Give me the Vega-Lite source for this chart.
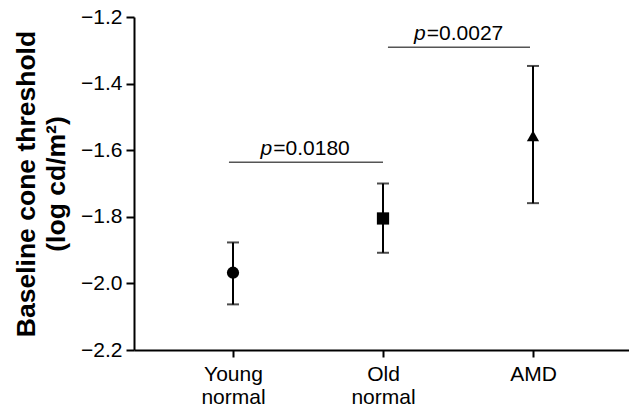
{
  "$schema": "https://vega.github.io/schema/vega-lite/v6.json",
  "width": 495,
  "height": 333,
  "autosize": {"type": "none"},
  "padding": {"left": 134, "top": 17, "right": 0, "bottom": 65},
  "background": "white",
  "config": {
    "view": {"stroke": null},
    "font": "Liberation Sans",
    "axis": {
      "domainColor": "black",
      "domainWidth": 2,
      "tickColor": "black",
      "tickWidth": 2,
      "labelColor": "black",
      "titleColor": "black",
      "grid": false,
      "labelFont": "Liberation Sans",
      "titleFont": "Liberation Sans"
    }
  },
  "datasets": {
    "groups": [
      {"group": "Young normal", "idx": 1, "mean": -1.968, "lo": -2.063, "hi": -1.877},
      {"group": "Old normal", "idx": 2, "mean": -1.805, "lo": -1.908, "hi": -1.70},
      {"group": "AMD", "idx": 3, "mean": -1.557, "lo": -1.759, "hi": -1.347}
    ],
    "sig": [
      {"from": 0.973, "to": 2.0, "y": -1.636, "split": 1.262, "p": "p", "label": "=0.0180"},
      {"from": 2.033, "to": 2.98, "y": -1.291, "split": 2.285, "p": "p", "label": "=0.0027"}
    ]
  },
  "layer": [
    {
      "data": {"name": "groups"},
      "mark": {"type": "rule", "color": "black", "strokeWidth": 2},
      "encoding": {
        "x": {
          "field": "idx", "type": "quantitative",
          "scale": {"domain": [0.34, 3.64], "nice": false, "zero": false},
          "axis": {
            "title": null,
            "values": [1, 2, 3],
            "labelExpr": "datum.value == 1 ? ['Young', 'normal'] : datum.value == 2 ? ['Old', 'normal'] : 'AMD'",
            "labelFontSize": 21,
            "labelLineHeight": 23,
            "tickSize": 7,
            "labelPadding": 6,
            "labelFlush": false,
            "labelOverlap": false
          }
        },
        "y": {
          "field": "lo", "type": "quantitative",
          "scale": {"domain": [-2.2, -1.2], "nice": false, "zero": false},
          "axis": {
            "title": ["Baseline cone threshold", "(log cd/m²)"],
            "values": [-2.2, -2.0, -1.8, -1.6, -1.4, -1.2],
            "format": ".1f",
            "labelFontSize": 21,
            "tickSize": 8,
            "labelPadding": 4,
            "titleFontSize": 26.5,
            "titleFontWeight": "bold",
            "titleLineHeight": 30,
            "titlePadding": 10
          }
        },
        "y2": {"field": "hi"}
      }
    },
    {
      "data": {"name": "groups"},
      "mark": {"type": "tick", "orient": "horizontal", "color": "black", "size": 12, "thickness": 2},
      "encoding": {
        "x": {"field": "idx", "type": "quantitative"},
        "y": {"field": "lo", "type": "quantitative"}
      }
    },
    {
      "data": {"name": "groups"},
      "mark": {"type": "tick", "orient": "horizontal", "color": "black", "size": 12, "thickness": 2},
      "encoding": {
        "x": {"field": "idx", "type": "quantitative"},
        "y": {"field": "hi", "type": "quantitative"}
      }
    },
    {
      "data": {"name": "groups"},
      "mark": {"type": "point", "filled": true, "color": "black", "opacity": 1, "size": 150},
      "encoding": {
        "x": {"field": "idx", "type": "quantitative"},
        "y": {"field": "mean", "type": "quantitative"},
        "shape": {
          "field": "group", "type": "nominal",
          "scale": {"domain": ["Young normal", "Old normal", "AMD"], "range": ["circle", "square", "triangle-up"]},
          "legend": null
        }
      }
    },
    {
      "data": {"name": "sig"},
      "mark": {"type": "rule", "color": "#555555", "strokeWidth": 1.5},
      "encoding": {
        "x": {"field": "from", "type": "quantitative"},
        "x2": {"field": "to"},
        "y": {"field": "y", "type": "quantitative"}
      }
    },
    {
      "data": {"name": "sig"},
      "mark": {"type": "text", "align": "right", "baseline": "alphabetic", "dy": -7, "fontSize": 21, "fontStyle": "italic", "color": "black"},
      "encoding": {
        "x": {"field": "split", "type": "quantitative"},
        "y": {"field": "y", "type": "quantitative"},
        "text": {"field": "p"}
      }
    },
    {
      "data": {"name": "sig"},
      "mark": {"type": "text", "align": "left", "baseline": "alphabetic", "dy": -7, "dx": 1, "fontSize": 21, "color": "black"},
      "encoding": {
        "x": {"field": "split", "type": "quantitative"},
        "y": {"field": "y", "type": "quantitative"},
        "text": {"field": "label"}
      }
    }
  ]
}
